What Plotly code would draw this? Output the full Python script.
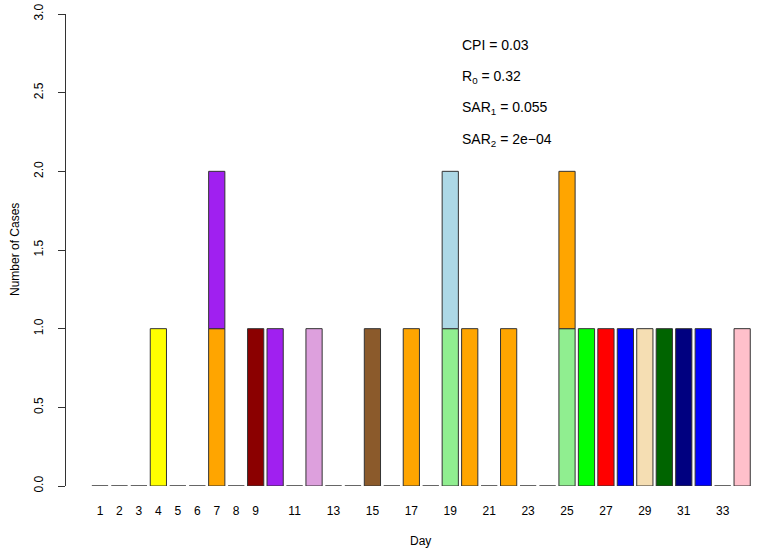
import plotly.graph_objects as go

days = list(range(1, 35))
# bottom segment of each stacked bar
bottom_counts = [0, 0, 0, 1, 0, 0, 1, 0, 1, 1, 0, 1, 0, 0, 1, 0, 1, 0, 1, 1,
                 0, 1, 0, 0, 1, 1, 1, 1, 1, 1, 1, 1, 0, 1]
bottom_colors = ["white", "white", "white", "#FFFF00", "white", "white", "#FFA500", "white",
                 "#8B0000", "#A020F0", "white", "#DDA0DD", "white", "white", "#8B5A2B", "white",
                 "#FFA500", "white", "#90EE90", "#FFA500", "white", "#FFA500", "white", "white",
                 "#90EE90", "#00FF00", "#FF0000", "#0000FF", "#F5DEB3", "#006400", "#000080",
                 "#0000FF", "white", "#FFC0CB"]
# top segment (only days with 2 cases)
top_days = [7, 19, 25]
top_counts = [1, 1, 1]
top_colors = ["#A020F0", "#ADD8E6", "#FFA500"]

tick_days = [1, 2, 3, 4, 5, 6, 7, 8, 9, 11, 13, 15, 17, 19, 21, 23, 25, 27, 29, 31, 33]
y_ticks = [0, 0.5, 1.0, 1.5, 2.0, 2.5, 3.0]

stats_text = ["CPI&nbsp;=&nbsp;0.03", "R<sub>0</sub>&nbsp;=&nbsp;0.32",
              "SAR<sub>1</sub>&nbsp;=&nbsp;0.055", "SAR<sub>2</sub>&nbsp;=&nbsp;2e\u221204"]
stats_y = [2.8, 2.6, 2.4, 2.2]
stats_x = 19.5

FONT = "Liberation Sans, Arial, sans-serif"
W, H = 769, 553
L, R, T, B = 66, 0, 14, 67
PW, PH = W - L - R, H - T - B

fig = go.Figure()
fig.add_trace(go.Bar(x=days, y=bottom_counts, width=1 / 1.2,
                     marker=dict(color=bottom_colors, line=dict(color="#333333", width=1)),
                     cliponaxis=False, hoverinfo="x+y"))
fig.add_trace(go.Bar(x=top_days, y=top_counts, base=[1, 1, 1], width=1 / 1.2,
                     marker=dict(color=top_colors, line=dict(color="#333333", width=1)),
                     cliponaxis=False, hoverinfo="x+y"))

for t, yy in zip(stats_text, stats_y):
    fig.add_annotation(x=stats_x, y=yy, text=t, showarrow=False, xanchor="left",
                       yanchor="middle", font=dict(size=14, color="black", family=FONT))

# axis titles placed like R's mtext lines
fig.add_annotation(xref="paper", yref="paper", x=(420 - L) / PW, y=-(541 - (H - B)) / PH,
                   text="Day", showarrow=False, xanchor="center", yanchor="middle",
                   font=dict(size=12, color="black", family=FONT))
fig.add_annotation(xref="paper", yref="paper", x=-(L - 15) / PW, y=0.5,
                   text="Number of Cases", showarrow=False, textangle=-90,
                   xanchor="center", yanchor="middle",
                   font=dict(size=12, color="black", family=FONT))

fig.update_layout(
    width=W, height=H,
    margin=dict(l=L, r=R, t=T, b=B, autoexpand=False),
    paper_bgcolor="white", plot_bgcolor="white",
    barmode="overlay", showlegend=False,
    font=dict(family=FONT, size=12, color="black"),
    xaxis=dict(range=[-0.747, 35.38], showgrid=False, zeroline=False, showline=False,
               automargin=False,
               tickmode="array", tickvals=tick_days, ticktext=[str(d) for d in tick_days],
               ticks="outside", ticklen=14, tickcolor="rgba(0,0,0,0)",
               tickfont=dict(size=12, color="black")),
    yaxis=dict(range=[0, 3], showgrid=False, zeroline=False, showline=True,
               automargin=False, ticklabeloverflow="allow",
               linecolor="#333", linewidth=1, ticks="outside", ticklen=7, tickcolor="#333",
               tickmode="array", tickvals=y_ticks, tickformat=".1f", tickangle=-90,
               ticklabelstandoff=10,
               tickfont=dict(size=12, color="black")),
)

fig.write_html("out.html", config={"displayModeBar": False},
               post_script="document.body.style.margin='0';document.body.style.overflow='hidden';")
